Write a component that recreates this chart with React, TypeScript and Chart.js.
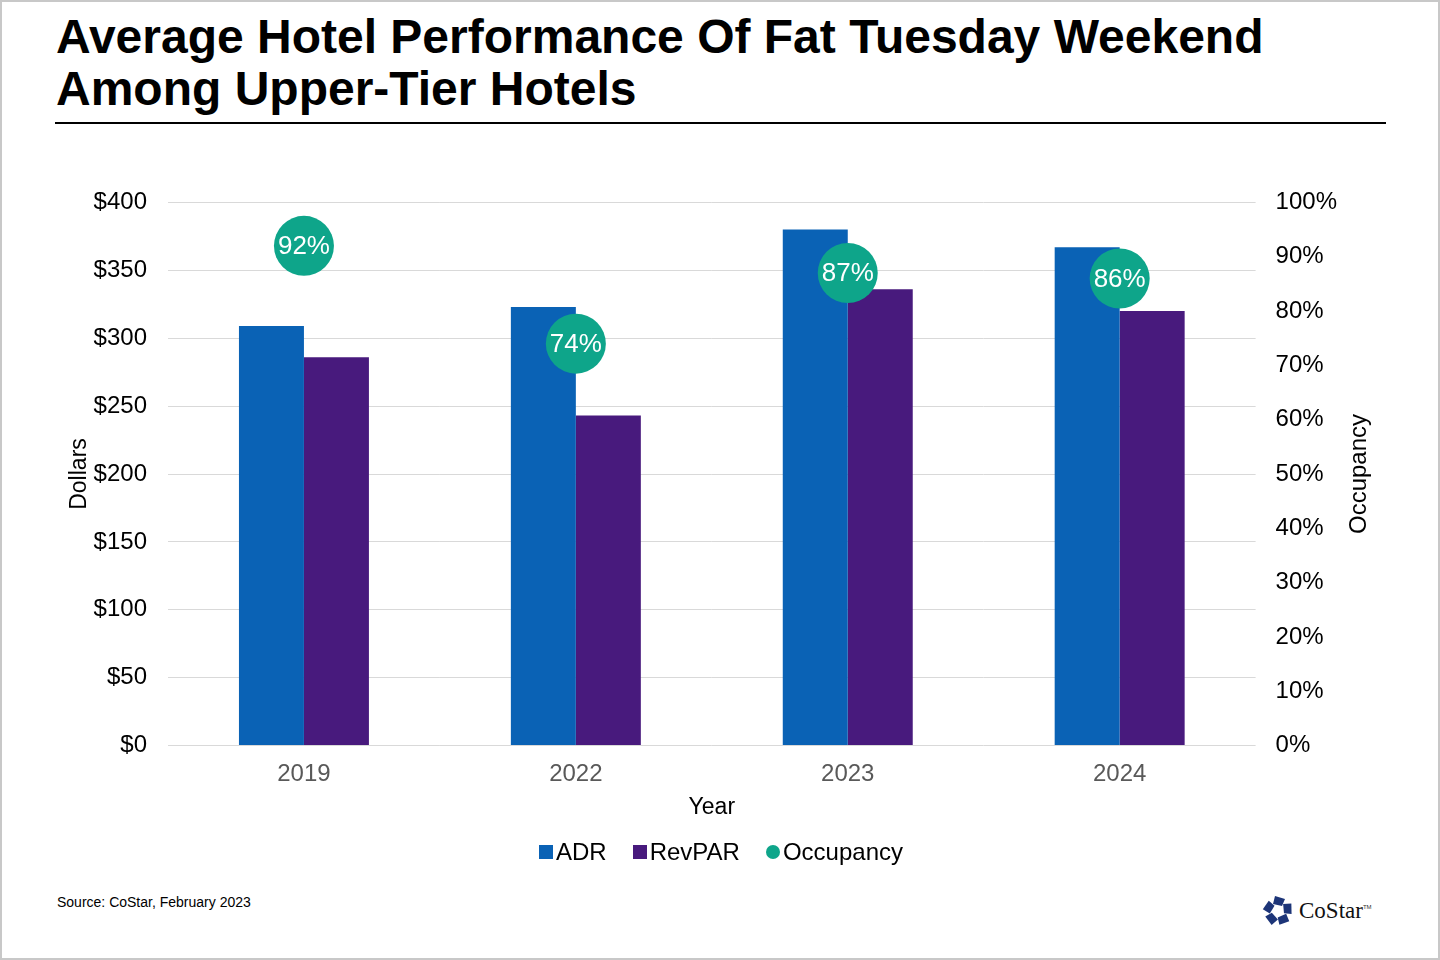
import { useEffect, useRef } from "react";
import { Chart, registerables } from "chart.js";

Chart.register(...registerables);

const years = ["2019", "2022", "2023", "2024"];
const adr = [309, 323, 380, 367];
const revpar = [286, 243, 336, 320];
const occupancy = [92, 74, 87, 86];
const seriesNames = ["ADR", "RevPAR", "Occupancy"];

const FONT = "'Liberation Sans', Arial, sans-serif";
const ADR_COLOR = "#0a62b5";
const REVPAR_COLOR = "#481a7d";
const OCC_COLOR = "#0ea58a";
const seriesColors = [ADR_COLOR, REVPAR_COLOR, OCC_COLOR];

// white % labels inside the circles + right axis title reading bottom-up
const occLabels = {
  id: "occLabels",
  afterDatasetsDraw(chart: Chart) {
    const ctx = chart.ctx;
    const meta = chart.getDatasetMeta(2);
    ctx.save();
    ctx.fillStyle = "#ffffff";
    ctx.font = `26px ${FONT}`;
    ctx.textAlign = "center";
    ctx.textBaseline = "middle";
    meta.data.forEach((pt, i) => {
      ctx.fillText(`${occupancy[i]}%`, pt.x, pt.y + 1);
    });
    const s = chart.scales.yOcc;
    ctx.translate(s.right + 2, (s.top + s.bottom) / 2);
    ctx.rotate(-Math.PI / 2);
    ctx.fillStyle = "#000000";
    ctx.font = `24px ${FONT}`;
    ctx.fillText("Occupancy", 0, 0);
    ctx.restore();
  },
};

function HotelChart() {
  const canvasRef = useRef<HTMLCanvasElement>(null);
  const chartRef = useRef<Chart | null>(null);

  useEffect(() => {
    if (!canvasRef.current) return;
    chartRef.current?.destroy();
    chartRef.current = new Chart(canvasRef.current.getContext("2d")!, {
      type: "bar",
      data: {
        labels: years,
        datasets: [
          {
            label: seriesNames[0],
            data: adr,
            backgroundColor: ADR_COLOR,
            yAxisID: "y",
            categoryPercentage: 0.478,
            barPercentage: 1,
            order: 1,
          },
          {
            label: seriesNames[1],
            data: revpar,
            backgroundColor: REVPAR_COLOR,
            yAxisID: "y",
            categoryPercentage: 0.478,
            barPercentage: 1,
            order: 1,
          },
          {
            type: "line",
            label: seriesNames[2],
            data: occupancy,
            yAxisID: "yOcc",
            showLine: false,
            backgroundColor: OCC_COLOR,
            borderColor: OCC_COLOR,
            pointBackgroundColor: OCC_COLOR,
            pointBorderWidth: 0,
            pointRadius: 30,
            pointHoverRadius: 30,
            pointStyle: "circle",
            clip: false,
            order: 0,
          },
        ] as any,
      },
      options: {
        responsive: true,
        maintainAspectRatio: false,
        animation: false,
        layout: { autoPadding: false, padding: { top: 7, left: 4, right: 35, bottom: 54 } },
        plugins: {
          tooltip: { enabled: false },
          legend: { display: false },
        },
        scales: {
          x: {
            grid: { display: false, drawTicks: false },
            border: { display: false },
            ticks: { color: "#595959", font: { family: FONT, size: 24 }, padding: 14 },
            title: {
              display: true,
              text: "Year",
              color: "#000000",
              font: { family: FONT, size: 23 },
              padding: { top: -9, bottom: 3 },
            },
          },
          y: {
            position: "left",
            min: 0,
            max: 400,
            grid: { color: "#d9d9d9", lineWidth: 1, drawTicks: false },
            border: { display: false },
            ticks: {
              stepSize: 50,
              color: "#000000",
              padding: 21,
              font: { family: FONT, size: 24 },
              callback: (v: string | number) => `$${v}`,
            },
            title: {
              display: true,
              text: "Dollars",
              color: "#000000",
              font: { family: FONT, size: 23 },
              padding: { top: 0, bottom: -21 },
            },
          },
          yOcc: {
            position: "right",
            min: 0,
            max: 100,
            grid: { display: false, drawTicks: false },
            border: { display: false },
            ticks: {
              stepSize: 10,
              color: "#000000",
              padding: 20,
              font: { family: FONT, size: 24 },
              callback: (v: string | number) => `${v}%`,
            },
          },
        },
      },
      plugins: [occLabels],
    });
    return () => {
      chartRef.current?.destroy();
      chartRef.current = null;
    };
  }, []);

  return (
    <div style={{ position: "absolute", left: 60, top: 165, width: 1330, height: 711 }}>
      <canvas ref={canvasRef} />
    </div>
  );
}

function Legend() {
  return (
    <div
      style={{
        position: "absolute",
        left: 537,
        top: 836,
        height: 28,
        display: "flex",
        alignItems: "center",
        fontSize: 24,
        color: "#000",
        whiteSpace: "nowrap",
      }}
    >
      {seriesNames.map((name, i) => (
        <div key={name} style={{ display: "flex", alignItems: "center", marginRight: i < 2 ? 26 : 0 }}>
          <span
            style={{
              display: "inline-block",
              width: 14,
              height: 14,
              background: seriesColors[i],
              borderRadius: i === 2 ? "50%" : 0,
              marginRight: 3,
            }}
          />
          <span>{name}</span>
        </div>
      ))}
    </div>
  );
}

function Logo() {
  // small pentagon-of-blades mark next to the wordmark
  const blades = [0, 72, 144, 216, 288];
  return (
    <div style={{ position: "absolute", left: 1260, top: 893, display: "flex", alignItems: "center" }}>
      <svg width="32" height="32" viewBox="-16 -16 32 32">
        {blades.map((a) => (
          <polygon key={a} points="-3,-15 7,-12 4,-5 -5,-7" fill="#1d3578" transform={`rotate(${a})`} />
        ))}
      </svg>
      <span
        style={{
          fontFamily: "'Liberation Serif', 'DejaVu Serif', serif",
          fontSize: 23,
          color: "#111",
          marginLeft: 5,
        }}
      >
        CoStar
      </span>
      <span style={{ fontFamily: FONT, fontSize: 6, color: "#333", alignSelf: "flex-start", marginTop: 9 }}>TM</span>
    </div>
  );
}

export default function App() {
  return (
    <div
      style={{
        position: "absolute",
        left: 0,
        top: 0,
        width: 1440,
        height: 960,
        boxSizing: "border-box",
        border: "2px solid #c8c8c8",
        background: "#ffffff",
        fontFamily: FONT,
        overflow: "hidden",
      }}
    >
      <div
        style={{
          position: "absolute",
          left: 54,
          top: 9,
          fontSize: 48,
          fontWeight: 700,
          lineHeight: "52px",
          color: "#000",
        }}
      >
        Average Hotel Performance Of Fat Tuesday Weekend
        <br />
        Among Upper-Tier Hotels
      </div>
      <div style={{ position: "absolute", left: 53, top: 120, width: 1331, height: 2, background: "#000" }} />
      <HotelChart />
      <Legend />
      <div style={{ position: "absolute", left: 55, top: 892, fontSize: 14, color: "#000" }}>
        Source: CoStar, February 2023
      </div>
      <Logo />
    </div>
  );
}
